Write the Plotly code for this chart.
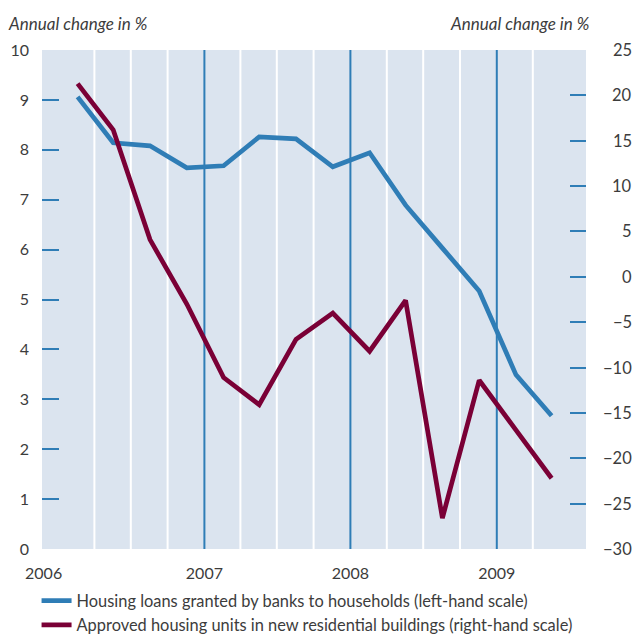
import plotly.graph_objects as go

# ---- data ----
dates = ["2006-02-18", "2006-05-18", "2006-08-18", "2006-11-18",
         "2007-02-18", "2007-05-18", "2007-08-18", "2007-11-18",
         "2008-02-18", "2008-05-18", "2008-08-18", "2008-11-18",
         "2009-02-18", "2009-05-18"]
loans = [9.06, 8.14, 8.08, 7.64, 7.68, 8.26, 8.22, 7.66, 7.94, 6.89, 6.03, 5.17, 3.49, 2.67]
approved = [21.3, 16.2, 4.1, -3.0, -11.1, -14.1, -6.9, -4.0, -8.2, -2.6, -26.6, -11.4, -16.9, -22.2]

loans_name = "Housing loans granted by banks to households (left-hand scale)"
approved_name = "Approved housing units in new residential buildings (right-hand scale)"

year_ticks = ["2005-11-25", "2007-01-01", "2008-01-01", "2009-01-01"]
year_labels = ["2006", "2007", "2008", "2009"]
year_lines = ["2007-01-01", "2008-01-01", "2009-01-01"]
quarter_lines = ["2006-04-01", "2006-07-01", "2006-10-01",
                 "2007-04-01", "2007-07-01", "2007-10-01",
                 "2008-04-01", "2008-07-01", "2008-10-01",
                 "2009-04-01"]
x_range = ["2005-11-21", "2009-08-12"]

left_ticks = list(range(0, 11))
right_ticks = list(range(-30, 26, 5))

# ---- style ----
BLUE = "#2f7db6"
RED = "#7a0036"
BG = "#dbe4ef"
TXT = "#3c3c3c"
FONT = "Lato"

fig = go.Figure()
fig.add_trace(go.Scatter(x=dates, y=loans, mode="lines", name=loans_name,
                         line=dict(color=BLUE, width=4.7), yaxis="y"))
fig.add_trace(go.Scatter(x=dates, y=approved, mode="lines", name=approved_name,
                         line=dict(color=RED, width=4.7), yaxis="y2"))

shapes = []
for d in quarter_lines:
    shapes.append(dict(type="line", xref="x", yref="paper", x0=d, x1=d, y0=0, y1=1,
                       line=dict(color="white", width=2), layer="below"))
for d in year_lines:
    shapes.append(dict(type="line", xref="x", yref="paper", x0=d, x1=d, y0=0, y1=1,
                       line=dict(color=BLUE, width=2), layer="below"))

annotations = [
    dict(text="<i>Annual change in %</i>", xref="paper", yref="paper",
         x=-0.066, y=1.054, xanchor="left", yanchor="middle", showarrow=False,
         font=dict(family=FONT, size=17, color=TXT)),
    dict(text="<i>Annual change in %</i>", xref="paper", yref="paper",
         x=1.011, y=1.054, xanchor="right", yanchor="middle", showarrow=False,
         font=dict(family=FONT, size=17, color=TXT)),
]
for v in right_ticks:
    annotations.append(dict(text=str(v).replace("-", "\u2212"), xref="paper", yref="y2",
                            x=1.0885, y=v, xanchor="right", yanchor="middle",
                            showarrow=False,
                            font=dict(family=FONT, size=16.5, color=TXT)))

fig.update_layout(
    width=633, height=636,
    margin=dict(l=42, r=47, t=50, b=87, autoexpand=False),
    paper_bgcolor="white", plot_bgcolor=BG,
    font=dict(family=FONT, size=16, color=TXT),
    showlegend=True,
    legend=dict(x=-0.01, y=-0.069, xanchor="left", yanchor="top",
                font=dict(family=FONT, size=16.4, color=TXT),
                bgcolor="rgba(0,0,0,0)", tracegroupgap=0, itemwidth=30),
    xaxis=dict(type="date", range=x_range, tickvals=year_ticks, ticktext=year_labels,
               showgrid=False, zeroline=False, showline=False, ticks="", automargin=False,
               ticklabelstandoff=13,
               tickfont=dict(family=FONT, size=16, color=TXT)),
    yaxis=dict(range=[0, 10], tickvals=left_ticks, showgrid=False, zeroline=False,
               showline=False, ticks="inside", ticklen=17, tickwidth=2, tickcolor=BLUE,
               ticklabelstandoff=12, automargin=False,
               tickfont=dict(family=FONT, size=16, color=TXT)),
    yaxis2=dict(range=[-30, 25], tickvals=right_ticks, overlaying="y", side="right",
                showgrid=False, zeroline=False, showline=False, ticks="inside",
                ticklen=16, tickwidth=2, tickcolor=BLUE, showticklabels=False,
                automargin=False),
    shapes=shapes,
    annotations=annotations,
)

fig.write_html("out.html", config={"displayModeBar": False},
               post_script="document.body.style.margin='0';document.body.style.overflow='hidden';")
